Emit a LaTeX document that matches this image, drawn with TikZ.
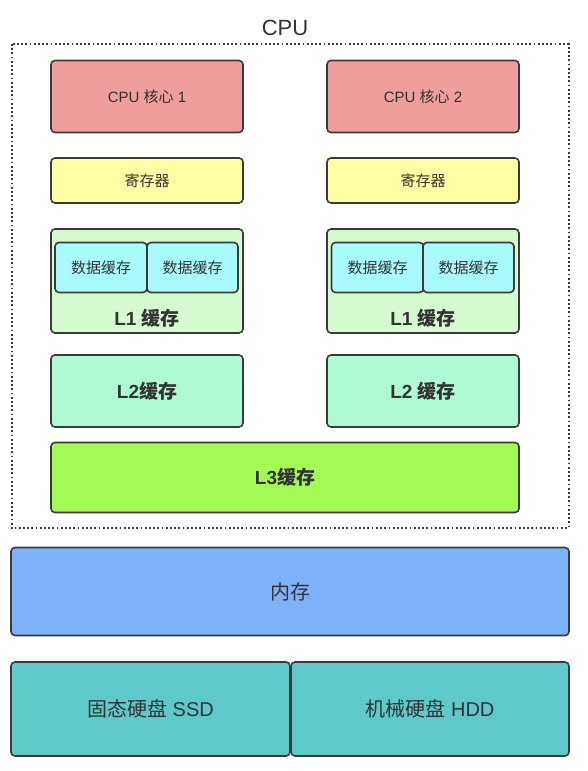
\documentclass[tikz,border=0pt]{standalone}
\usepackage{fontspec}
\setmainfont{Liberation Sans}
\newfontfamily\cjk{Noto Sans CJK SC}
\newcommand{\zh}[1]{{\cjk #1}}
\definecolor{txt}{HTML}{333333}
\definecolor{edge}{HTML}{3A3A3A}
\definecolor{corec}{HTML}{F09D9D}
\definecolor{regc}{HTML}{FFFFA3}
\definecolor{lonec}{HTML}{D6FAD0}
\definecolor{datac}{HTML}{A8FAFB}
\definecolor{ltwoc}{HTML}{AEFAD2}
\definecolor{lthreec}{HTML}{A4FA55}
\definecolor{memc}{HTML}{7EB2F8}
\definecolor{diskc}{HTML}{5DC9C9}
\begin{document}
\begin{tikzpicture}[x=1pt,y=-1pt,
  box/.style={draw=edge, line width=1.6pt, rounded corners=4pt, inner sep=0pt, text=txt, align=center},
  small/.style={font=\fontsize{15}{17}\selectfont},
  big/.style={font=\fontsize{20}{23}\selectfont},
  bigb/.style={font=\fontsize{19}{22}\selectfont\bfseries}]
\useasboundingbox[fill=white] (0,0) rectangle (587,771);
% CPU frame
\node[text=txt, font=\fontsize{22}{25}\selectfont] (cputitle) at (285,28) {CPU};
\draw[edge, line width=2pt, dash pattern=on 1.8pt off 2.4pt] (11.5,44) rectangle (568.5,528);
% core 1 column
\node[box, small, fill=corec, minimum width=192pt, minimum height=72pt] (core1) at (147,96.5) {CPU \zh{核心} 1};
\node[box, small, fill=regc, minimum width=192pt, minimum height=45pt] (reg1) at (147,180.5) {\zh{寄存器}};
\node[box, fill=lonec, minimum width=192pt, minimum height=104pt] (lone1) at (147,281) {};
\node[box, small, fill=datac, minimum width=92pt, minimum height=50pt] (da1) at (101,267.5) {\zh{数据缓存}};
\node[box, small, fill=datac, minimum width=91pt, minimum height=50pt] (db1) at (192.5,267.5) {\zh{数据缓存}};
\node[text=txt, bigb] (lonelab1) at (147,318) {L1 \zh{缓存}};
\node[box, bigb, fill=ltwoc, minimum width=192pt, minimum height=72pt] (ltwo1) at (147,391) {L2\zh{缓存}};
% core 2 column
\node[box, small, fill=corec, minimum width=192pt, minimum height=72pt] (core2) at (423,96.5) {CPU \zh{核心} 2};
\node[box, small, fill=regc, minimum width=192pt, minimum height=45pt] (reg2) at (423,180.5) {\zh{寄存器}};
\node[box, fill=lonec, minimum width=192pt, minimum height=104pt] (lone2) at (423,281) {};
\node[box, small, fill=datac, minimum width=92pt, minimum height=50pt] (da2) at (377.5,267.5) {\zh{数据缓存}};
\node[box, small, fill=datac, minimum width=91pt, minimum height=50pt] (db2) at (468.5,267.5) {\zh{数据缓存}};
\node[text=txt, bigb] (lonelab2) at (423,318) {L1 \zh{缓存}};
\node[box, bigb, fill=ltwoc, minimum width=192pt, minimum height=72pt] (ltwo2) at (423,391) {L2 \zh{缓存}};
% L3
\node[box, bigb, fill=lthreec, minimum width=468pt, minimum height=70pt] (lthree) at (285,477.5) {L3\zh{缓存}};
% memory
\node[box, big, fill=memc, minimum width=558pt, minimum height=88pt] (mem) at (290,591.5) {\zh{内存}};
% disks
\node[box, big, fill=diskc, minimum width=279pt, minimum height=94pt] (ssd) at (150.5,709) {\zh{固态硬盘} SSD};
\node[box, big, fill=diskc, minimum width=278pt, minimum height=94pt] (hdd) at (430,709) {\zh{机械硬盘} HDD};
\end{tikzpicture}
\end{document}
